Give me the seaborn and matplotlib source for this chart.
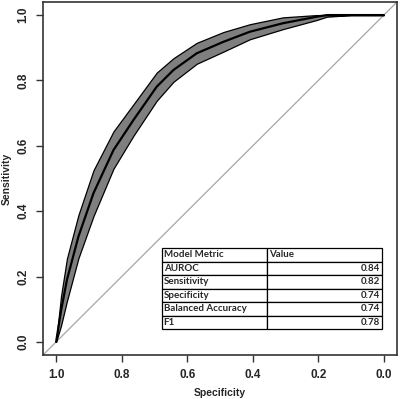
import matplotlib
matplotlib.use("Agg")
import matplotlib.pyplot as plt
import numpy as np
import pandas as pd
import seaborn as sns

# ROC curve (specificity decreasing left -> right)
specificity = [1.0, 0.985, 0.967, 0.932, 0.886, 0.825, 0.764, 0.693, 0.642, 0.571, 0.49, 0.409, 0.308, 0.205, 0.174, 0.1, 0.0]
sensitivity = [0.0, 0.095, 0.19, 0.322, 0.455, 0.587, 0.679, 0.781, 0.832, 0.883, 0.918, 0.949, 0.975, 0.995, 1.0, 1.0, 1.0]
sens_low = [0.0, 0.05, 0.125, 0.256, 0.385, 0.53, 0.631, 0.738, 0.796, 0.851, 0.888, 0.926, 0.957, 0.985, 0.995, 1.0, 1.0]
sens_high = [0.0, 0.14, 0.255, 0.388, 0.525, 0.644, 0.727, 0.824, 0.868, 0.915, 0.948, 0.972, 0.993, 1.0, 1.0, 1.0, 1.0]

metric_names = ["AUROC", "Sensitivity", "Specificity", "Balanced Accuracy", "F1"]
metric_values = ["0.84", "0.82", "0.74", "0.74", "0.78"]

ticks = [1.0, 0.8, 0.6, 0.4, 0.2, 0.0]

sns.set_theme(style="white")
plt.rcParams["font.family"] = ["Liberation Sans", "DejaVu Sans"]

df = pd.DataFrame({"Specificity": specificity, "Sensitivity": sensitivity})

fig = plt.figure(figsize=(4.0, 3.99), dpi=100)
ax = fig.add_axes([43 / 400, 44 / 399, 354 / 400, 353 / 399])

# confidence band
ax.fill_between(specificity, sens_low, sens_high, facecolor="#7f7f7f", edgecolor="black",
                linewidth=0.9, zorder=2)
# chance line
ax.axline((1, 0), (0, 1), color="#a6a6a6", linewidth=0.9, zorder=1)
sns.lineplot(data=df, x="Specificity", y="Sensitivity", sort=False, estimator=None,
             color="black", linewidth=1.6, ax=ax, zorder=3)

ax.set_xlim(1.04, -0.04)
ax.set_ylim(-0.04, 1.04)
ax.set_xticks(ticks)
ax.set_xticklabels([f"{t:.1f}" for t in ticks], fontsize=8.5, fontweight="bold")
ax.set_yticks(ticks)
ax.set_yticklabels([f"{t:.1f}" for t in ticks], fontsize=8.5, fontweight="bold", rotation=90, va="center")
ax.tick_params(axis="both", direction="out", length=5, width=1, color="#333333", pad=5, bottom=True, left=True)
ax.set_xlabel("Specificity", fontsize=7.5, fontweight="bold", labelpad=5)
ax.set_ylabel("Sensitivity", fontsize=7.5, fontweight="bold", labelpad=4)
for s in ax.spines.values():
    s.set_color("#333333")
    s.set_linewidth(1.2)

# metrics table
cells = [["Model Metric", "Value"]] + [[n, v] for n, v in zip(metric_names, metric_values)]
tbl = ax.table(cellText=cells, colWidths=[0.477, 0.523],
               bbox=[(162 - 43) / 354, (355 - 329) / 353, 220 / 354, 81 / 353])
tbl.auto_set_font_size(False)
for (r, c), cell in tbl.get_celld().items():
    cell.set_linewidth(0.9)
    cell.set_edgecolor("black")
    txt = cell.get_text()
    txt.set_fontsize(7)
    txt.set_fontweight("bold")
    txt.set_family(["Lato", "DejaVu Sans"])
    if c == 1 and r > 0:
        cell._loc = "right"
        txt.set_ha("right")
    else:
        cell._loc = "left"
        txt.set_ha("left")
    cell.PAD = 0.015
tbl.set_zorder(5)

fig.savefig("out.png", dpi=100)
